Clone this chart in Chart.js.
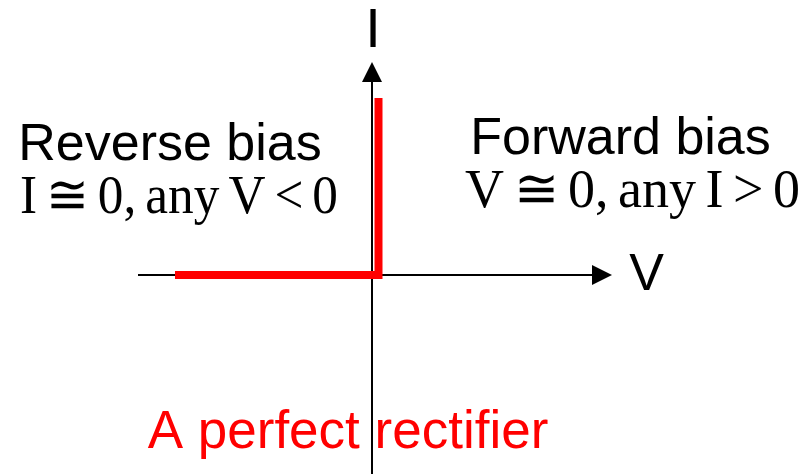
<!DOCTYPE html>
<html>
<head>
<meta charset="utf-8">
<script src="https://cdn.jsdelivr.net/npm/chart.js@4"></script>
<style>
  html, body { margin: 0; padding: 0; background: #fff; }
  canvas { display: block; }
</style>
</head>
<body>
<canvas id="ivChart" width="808" height="474"></canvas>
<script>
// ideal rectifier I-V curve (arbitrary units)
const curveV = [-1.97, 0.065, 0.065];
const curveI = [0, 0, 1.77];

// axis extents (arrow tips at the end of the positive side)
const vAxisRange = [-2.34, 2.40];
const iAxisRange = [-2.0, 2.13];

// view window
const viewV = [-3.72, 4.36];
const viewI = [-1.99, 2.75];

const points = curveV.map((v, i) => ({ x: v, y: curveI[i] }));

const SANS = '"Liberation Sans", Arial, sans-serif';
const SERIF = '"Liberation Serif", "Times New Roman", serif';

// draws centred text, squeezed only if still wider than the given width
function fitText(ctx, text, cx, y, width) {
    const w = ctx.measureText(text).width;
    const k = Math.min(1, width / w);
    ctx.save();
    ctx.translate(cx, y);
    ctx.scale(k, 1);
    ctx.fillText(text, 0, 0);
    ctx.restore();
}

// axes with arrowheads, drawn through the scales
const axesPlugin = {
    id: 'axes',
    beforeDatasetsDraw(chart) {
        const ctx = chart.ctx;
        const xs = chart.scales.x, ys = chart.scales.y;
        const x0 = xs.getPixelForValue(0), y0 = ys.getPixelForValue(0);
        const xl = xs.getPixelForValue(vAxisRange[0]), xr = xs.getPixelForValue(vAxisRange[1]);
        const yb = ys.getPixelForValue(iAxisRange[0]), yt = ys.getPixelForValue(iAxisRange[1]);
        const head = 20;
        ctx.save();
        ctx.strokeStyle = '#000';
        ctx.fillStyle = '#000';
        ctx.lineWidth = 2;
        // horizontal
        ctx.beginPath();
        ctx.moveTo(xl, y0);
        ctx.lineTo(xr - head, y0);
        ctx.stroke();
        ctx.beginPath();
        ctx.moveTo(xr, y0);
        ctx.lineTo(xr - head, y0 - 10);
        ctx.lineTo(xr - head, y0 + 10);
        ctx.closePath();
        ctx.fill();
        // vertical
        ctx.beginPath();
        ctx.moveTo(x0, yb);
        ctx.lineTo(x0, yt + head);
        ctx.stroke();
        ctx.beginPath();
        ctx.moveTo(x0, yt);
        ctx.lineTo(x0 - 10, yt + head);
        ctx.lineTo(x0 + 10, yt + head);
        ctx.closePath();
        ctx.fill();
        ctx.restore();
    },
    afterDraw(chart) {
        const ctx = chart.ctx;
        ctx.save();
        ctx.textAlign = 'center';
        ctx.textBaseline = 'alphabetic';
        ctx.fillStyle = '#000';
        ctx.font = '56px ' + SANS;
        ctx.fillText('I', 373, 47);
        ctx.font = '52px ' + SANS;
        ctx.fillText('V', 646.5, 290);
        ctx.fillText('Reverse bias', 170, 160);
        ctx.fillText('Forward bias', 620.5, 154);
        ctx.font = '54px ' + SERIF;
        ctx.wordSpacing = '-4px';
        fitText(ctx, 'I \u2245 0, any V < 0', 179, 213, 318);
        fitText(ctx, 'V \u2245 0, any I > 0', 632.5, 207, 335);
        ctx.wordSpacing = '0px';
        ctx.fillStyle = '#ff0000';
        ctx.font = '53px ' + SANS;
        ctx.fillText('A perfect rectifier', 348, 448);
        ctx.restore();
    }
};

const ivChart = new Chart(document.getElementById('ivChart'), {
    type: 'scatter',
    data: {
        datasets: [
            {
                label: 'I-V',
                data: points,
                showLine: true,
                borderColor: '#ff0000',
                backgroundColor: '#ff0000',
                borderWidth: 8,
                borderCapStyle: 'butt',
                borderJoinStyle: 'miter',
                pointRadius: 0,
                tension: 0
            }
        ]
    },
    options: {
        responsive: false,
        animation: false,
        devicePixelRatio: 1,
        layout: { padding: 0 },
        plugins: {
            legend: { display: false },
            tooltip: { enabled: false }
        },
        scales: {
            x: { type: 'linear', min: viewV[0], max: viewV[1], display: false },
            y: { type: 'linear', min: viewI[0], max: viewI[1], display: false }
        }
    },
    plugins: [axesPlugin]
});
</script>
</body>
</html>
